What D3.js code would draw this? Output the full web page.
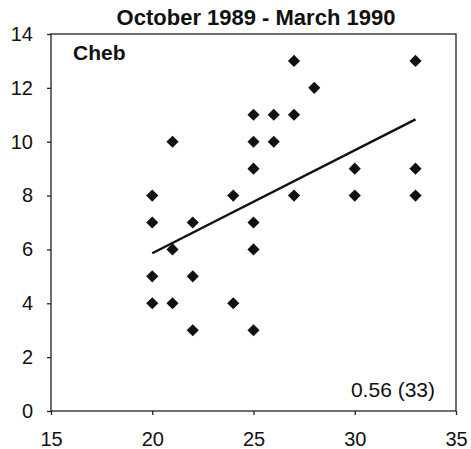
<!DOCTYPE html>
<html>
<head>
<meta charset="utf-8">
<script src="https://cdn.jsdelivr.net/npm/d3@7"></script>
<style>
  body { margin: 0; background: #fff; }
  svg text { font-family: Arial, "Liberation Sans", sans-serif; fill: #111; }
  .axis path, .axis line { stroke: #222; stroke-width: 1.3; }
  .axis text { font-size: 20px; }
</style>
</head>
<body>
<svg id="chart" width="471" height="449"></svg>
<script>
// Data //////////////////////////////////////////////////////////////
var xVals = [20, 20, 20, 20, 21, 21, 21, 22, 22, 22, 24, 24, 25, 25, 25, 25, 25, 25, 26, 26, 27, 27, 27, 28, 30, 30, 33, 33, 33];
var yVals = [8, 7, 5, 4, 10, 6, 4, 7, 5, 3, 8, 4, 11, 10, 9, 7, 6, 3, 11, 10, 13, 11, 8, 12, 9, 8, 13, 9, 8];
var trendX = [20, 33];
var trendY = [5.86, 10.83];
var xTicks = [15, 20, 25, 30, 35];
var yTicks = [0, 2, 4, 6, 8, 10, 12, 14];
var title = "October 1989 - March 1990";
var stationLabel = "Cheb";
var statLabel = "0.56 (33)";

var margin = {top: 34, right: 15, bottom: 38, left: 51};
var width = 471 - margin.left - margin.right;
var height = 449 - margin.top - margin.bottom;

var svg = d3.select("#chart");
var g = svg.append("g")
    .attr("transform", "translate(" + margin.left + "," + margin.top + ")");

// scales
var scaleX = d3.scaleLinear().domain([15, 35]).range([0, width]);
var scaleY = d3.scaleLinear().domain([0, 14]).range([height, 0]);

// frame
g.append("rect")
    .attr("width", width)
    .attr("height", height)
    .attr("fill", "none")
    .attr("stroke", "#222")
    .attr("stroke-width", 1.3);

// axes
g.append("g")
    .attr("class", "axis")
    .attr("transform", "translate(0," + height + ")")
    .call(d3.axisBottom(scaleX).tickValues(xTicks).tickSize(4).tickSizeOuter(0).tickPadding(17));

g.append("g")
    .attr("class", "axis")
    .call(d3.axisLeft(scaleY).tickValues(yTicks).tickSize(4).tickSizeOuter(0).tickPadding(14));

g.selectAll(".axis .domain").remove();

// trend line
var line = d3.line()
    .x(function(d, i) { return scaleX(trendX[i]) })
    .y(function(d) { return scaleY(d) });

g.append("path")
    .datum(trendY)
    .attr("d", line)
    .attr("fill", "none")
    .attr("stroke", "#111")
    .attr("stroke-width", 2.4);

// points (diamonds)
var diamond = d3.symbol().type(d3.symbolSquare).size(74);

g.selectAll(".pt")
    .data(xVals)
    .enter()
    .append("path")
        .attr("class", "pt")
        .attr("d", diamond)
        .attr("fill", "#111")
        .attr("transform", function(d, i) {
            return "translate(" + scaleX(d) + "," + scaleY(yVals[i]) + ") rotate(45)";
        });

// labels
svg.append("text")
    .attr("x", 256)
    .attr("y", 25)
    .attr("text-anchor", "middle")
    .style("font-size", "22px")
    .style("font-weight", "bold")
    .text(title);

g.append("text")
    .attr("x", 22)
    .attr("y", 26)
    .style("font-size", "21px")
    .style("font-weight", "bold")
    .text(stationLabel);

g.append("text")
    .attr("x", width - 21)
    .attr("y", height - 14)
    .attr("text-anchor", "end")
    .style("font-size", "21px")
    .text(statLabel);
</script>
</body>
</html>
